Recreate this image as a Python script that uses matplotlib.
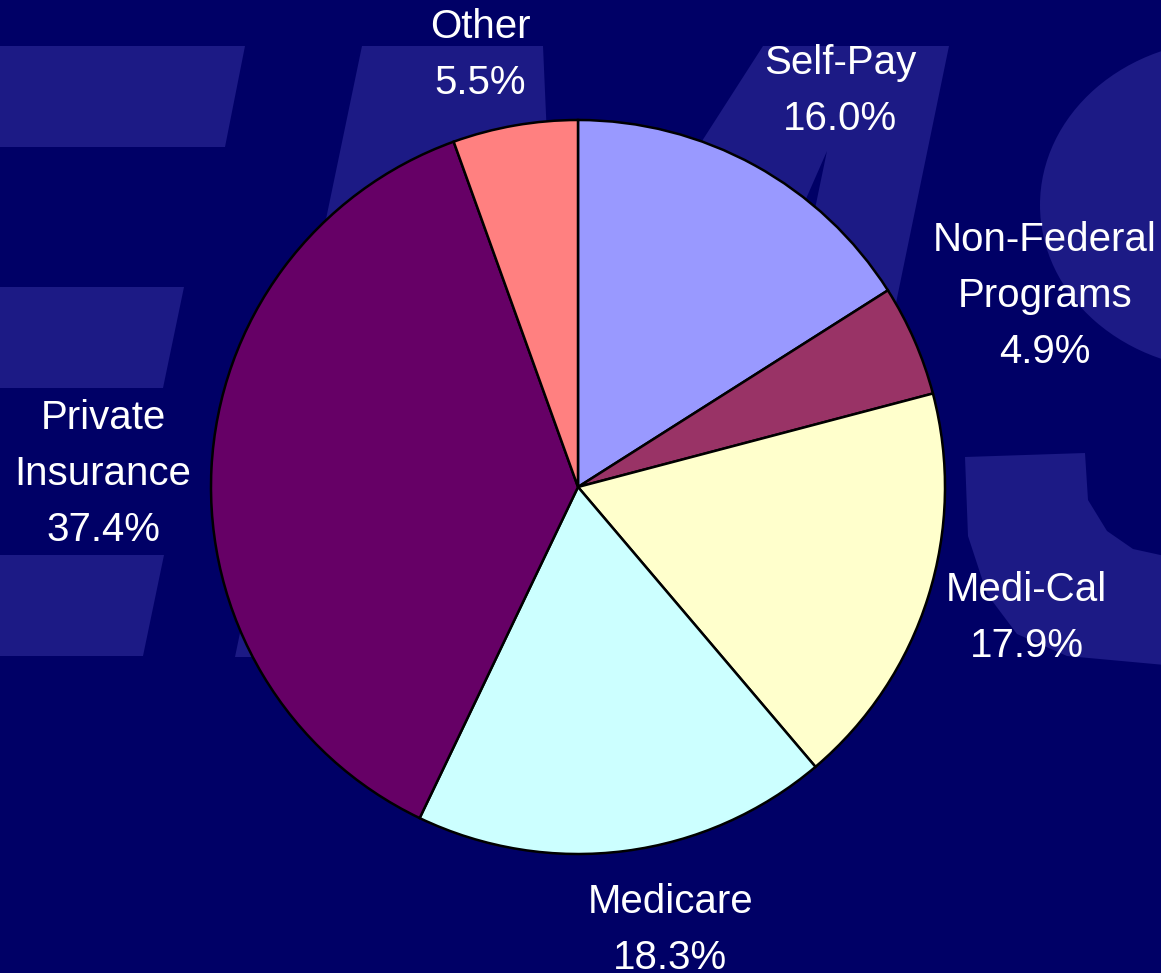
import matplotlib
matplotlib.use("Agg")
import matplotlib.pyplot as plt
from matplotlib.patches import Polygon, Ellipse

# payer mix, clockwise from 12 o'clock
categories = ["Self-Pay", "Non-Federal\nPrograms", "Medi-Cal", "Medicare",
              "Private\nInsurance", "Other"]
shares = [16.0, 4.9, 17.9, 18.3, 37.4, 5.5]
colors = ["#9999FF", "#993366", "#FFFFCC", "#CCFFFF", "#660066", "#FF8080"]

# label anchors (pie units, centre = 0,0, radius = 1)
label_xy = [(0.714, 1.078), (1.272, 0.520), (1.223, -0.358),
            (0.251, -1.208), (-1.294, 0.035), (-0.267, 1.178)]

BG = "#000066"
WATERMARK = "#1C1A85"

W, H = 1161, 973
fig = plt.figure(figsize=(W / 100, H / 100), dpi=100, facecolor=BG)

# background watermark letters, drawn in pixel space
bg = fig.add_axes([0, 0, 1, 1])
bg.set_xlim(0, W)
bg.set_ylim(H, 0)
bg.set_facecolor(BG)
bg.axis("off")

f_bars = [
    [(-5, 46), (245, 46), (225, 147), (-5, 147)],
    [(-5, 287), (184, 287), (163, 388), (-5, 388)],
    [(-5, 555), (164, 555), (143, 656), (-5, 656)],
]
m_shape = [(362, 46), (543, 46), (548, 160), (600, 300), (763, 46), (949, 46),
           (823, 657), (722, 657), (827, 151), (700, 440), (560, 657), (235, 657)]
s_lower = [(965, 457), (1085, 453), (1088, 500), (1107, 531), (1133, 549),
           (1165, 556), (1165, 665), (1067, 656), (1017, 634), (987, 594),
           (968, 536)]
for pts in f_bars + [m_shape, s_lower]:
    bg.add_patch(Polygon(pts, closed=True, facecolor=WATERMARK, edgecolor="none"))
bg.add_patch(Ellipse((1230, 205), 380, 330, facecolor=WATERMARK, edgecolor="none"))

# pie axes: centre at pixel (578, 487), radius 367 px
R = 367.0
cx, cy = 578.0, 487.0
ax = fig.add_axes([0, 0, 1, 1])
ax.set_facecolor("none")

ax.pie(shares, colors=colors, startangle=90, counterclock=False, radius=1.0,
       wedgeprops=dict(edgecolor="black", linewidth=1.8))
ax.set_aspect("auto")
ax.set_xlim(-cx / R, (W - cx) / R)
ax.set_ylim(-(H - cy) / R, cy / R)
ax.axis("off")

for name, val, (x, y) in zip(categories, shares, label_xy):
    ax.text(x, y, f"{name}\n{val:.1f}%", ha="center", va="center",
            color="white", fontsize=29, family="Liberation Sans",
            linespacing=1.6)

fig.savefig("out.png", dpi=100, facecolor=BG)
